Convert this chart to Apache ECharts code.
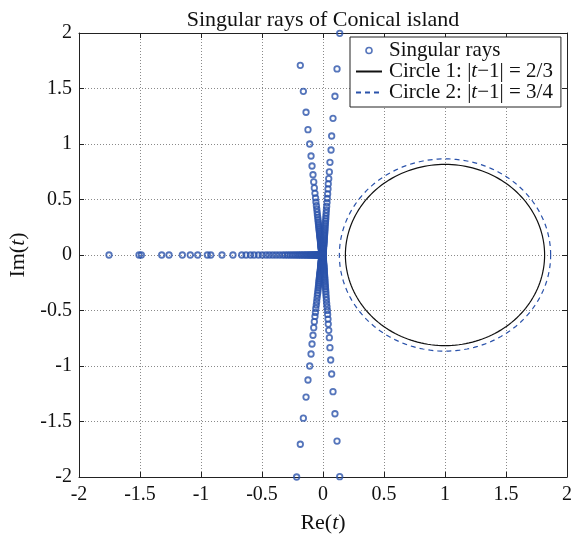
<!DOCTYPE html>
<html>
<head>
<meta charset="utf-8">
<script src="https://cdn.jsdelivr.net/npm/echarts@6/dist/echarts.min.js"></script>
<style>
  html, body { margin: 0; padding: 0; background: #fff; }
  #chart { width: 576px; height: 539px; }
</style>
</head>
<body>
<div id="chart"></div>
<script>
// Singular rays (points as [Re, Im])
const rayUpperLeft = [
  [-0.186,1.709],[-0.161,1.475],[-0.139,1.286],[-0.123,1.129],[-0.109,1.000],[-0.098,0.892],
  [-0.090,0.802],[-0.082,0.723],[-0.076,0.658],[-0.071,0.604],[-0.066,0.556],[-0.061,0.514],
  [-0.058,0.477],[-0.054,0.444],[-0.051,0.414],[-0.048,0.387],[-0.046,0.362],[-0.043,0.339],
  [-0.041,0.318],[-0.039,0.298],[-0.037,0.280],[-0.035,0.263],[-0.034,0.247],[-0.032,0.232],
  [-0.031,0.218],[-0.029,0.205],[-0.028,0.192],[-0.027,0.180],[-0.026,0.169],[-0.024,0.158],
  [-0.023,0.148],[-0.022,0.138],[-0.021,0.129],[-0.020,0.120],[-0.020,0.112],[-0.019,0.104],
  [-0.018,0.096],[-0.017,0.089],[-0.017,0.082],[-0.016,0.075],[-0.015,0.069],[-0.015,0.063],
  [-0.014,0.057],[-0.013,0.052],[-0.013,0.047],[-0.012,0.042],[-0.012,0.037],[-0.011,0.033],
  [-0.011,0.029],[-0.011,0.025],[-0.010,0.021],[-0.010,0.018],[-0.010,0.015],[-0.009,0.012],
  [-0.009,0.009],[-0.009,0.006],[-0.008,0.003]
];
const rayLowerLeft = [
  [-0.216,-2.000],[-0.186,-1.705],[-0.161,-1.470],[-0.139,-1.280],[-0.123,-1.126],[-0.109,-1.000],
  [-0.098,-0.892],[-0.090,-0.802],[-0.082,-0.723],[-0.076,-0.655],[-0.071,-0.601],[-0.066,-0.553],
  [-0.062,-0.517],[-0.059,-0.481],[-0.055,-0.451],[-0.052,-0.421],[-0.049,-0.390],[-0.046,-0.362],
  [-0.043,-0.339],[-0.041,-0.318],[-0.039,-0.298],[-0.037,-0.280],[-0.035,-0.263],[-0.034,-0.247],
  [-0.032,-0.232],[-0.031,-0.218],[-0.029,-0.205],[-0.028,-0.192],[-0.027,-0.180],[-0.026,-0.169],
  [-0.024,-0.158],[-0.023,-0.148],[-0.022,-0.138],[-0.021,-0.129],[-0.020,-0.120],[-0.020,-0.112],
  [-0.019,-0.104],[-0.018,-0.096],[-0.017,-0.089],[-0.017,-0.082],[-0.016,-0.075],[-0.015,-0.069],
  [-0.015,-0.063],[-0.014,-0.057],[-0.013,-0.052],[-0.013,-0.047],[-0.012,-0.042],[-0.012,-0.037],
  [-0.011,-0.033],[-0.011,-0.029],[-0.011,-0.025],[-0.010,-0.021],[-0.010,-0.018],[-0.010,-0.015],
  [-0.009,-0.012],[-0.009,-0.009],[-0.009,-0.006],[-0.008,-0.003]
];
const rayUpperRight = [
  [0.137,1.997],[0.115,1.676],[0.098,1.430],[0.082,1.231],[0.071,1.072],[0.066,0.946],
  [0.057,0.835],[0.052,0.748],[0.047,0.688],[0.043,0.640],[0.041,0.595],[0.038,0.550],
  [0.035,0.509],[0.033,0.472],[0.030,0.438],[0.028,0.407],[0.026,0.379],[0.024,0.353],
  [0.023,0.329],[0.021,0.307],[0.020,0.286],[0.018,0.267],[0.017,0.249],[0.016,0.232],
  [0.015,0.216],[0.014,0.201],[0.013,0.187],[0.012,0.174],[0.011,0.162],[0.010,0.150],
  [0.010,0.139],[0.009,0.129],[0.008,0.119],[0.008,0.110],[0.007,0.101],[0.006,0.093],
  [0.006,0.085],[0.005,0.078],[0.005,0.071],[0.004,0.064],[0.004,0.058],[0.004,0.052],
  [0.003,0.046],[0.003,0.041],[0.002,0.036],[0.002,0.031],[0.002,0.027],[0.002,0.023],
  [0.001,0.019],[0.001,0.015],[0.001,0.012],[0.001,0.009],[0.000,0.006],[0.000,0.003]
];
const rayLowerRight = [
  [0.137,-1.997],[0.115,-1.676],[0.098,-1.430],[0.082,-1.231],[0.071,-1.072],[0.063,-0.946],
  [0.057,-0.835],[0.052,-0.745],[0.047,-0.679],[0.043,-0.622],[0.041,-0.577],[0.038,-0.535],
  [0.036,-0.499],[0.033,-0.467],[0.030,-0.438],[0.028,-0.407],[0.026,-0.379],[0.024,-0.353],
  [0.023,-0.329],[0.021,-0.307],[0.020,-0.286],[0.018,-0.267],[0.017,-0.249],[0.016,-0.232],
  [0.015,-0.216],[0.014,-0.201],[0.013,-0.187],[0.012,-0.174],[0.011,-0.162],[0.010,-0.150],
  [0.010,-0.139],[0.009,-0.129],[0.008,-0.119],[0.008,-0.110],[0.007,-0.101],[0.006,-0.093],
  [0.006,-0.085],[0.005,-0.078],[0.005,-0.071],[0.004,-0.064],[0.004,-0.058],[0.004,-0.052],
  [0.003,-0.046],[0.003,-0.041],[0.002,-0.036],[0.002,-0.031],[0.002,-0.027],[0.002,-0.023],
  [0.001,-0.019],[0.001,-0.015],[0.001,-0.012],[0.001,-0.009],[0.000,-0.006],[0.000,-0.003]
];
// ray along the negative real axis (Im = 0)
const rayNegRealRe = [
  -1.754,-1.508,-1.489,-1.322,-1.262,-1.153,-1.088,-1.027,-0.948,-0.920,-0.828,-0.738,
  -0.666,-0.631,-0.595,-0.565,-0.530,-0.498,-0.467,-0.440,-0.412,-0.385,-0.358,-0.332,
  -0.310,-0.290,-0.271,-0.253,-0.236,-0.220,-0.205,-0.191,-0.178,-0.165,-0.153,-0.142,
  -0.131,-0.121,-0.112,-0.103,-0.095,-0.087,-0.080,-0.073,-0.067,-0.061,-0.055,-0.050,
  -0.045,-0.041,-0.037,-0.033,-0.029,-0.026,-0.023,-0.020,-0.017,-0.015,-0.013,-0.011,-0.009
];

// Circles |t-1| : centre and squared radius
const circleCenter = [1, 0];
const circleRadiusSq = [2 / 3, 3 / 4];
const seriesNames = ['Singular rays', 'Circle 1: |t−1| = 2/3', 'Circle 2: |t−1| = 3/4'];
const xTicks = [-2, 2, 0.5];
const yTicks = [-2, 2, 0.5];

const BLUE = '#2a52aa';
const INK = '#111';
const FONT = 'Liberation Serif';

const rayPoints = [].concat(
  rayNegRealRe.map(re => [re, 0]),
  rayUpperLeft, rayLowerLeft, rayUpperRight, rayLowerRight
);

function circlePath(rSq) {
  const r = Math.sqrt(rSq);
  const pts = [];
  for (let k = 0; k <= 360; k++) {
    const a = k * Math.PI / 180;
    pts.push([circleCenter[0] + r * Math.cos(a), circleCenter[1] + r * Math.sin(a)]);
  }
  return pts;
}

function richSet(size) {
  return {
    n: { fontFamily: FONT, fontSize: size, color: INK },
    i: { fontFamily: FONT, fontSize: size, fontStyle: 'italic', color: INK }
  };
}

function italicT(s) {
  const k = s.indexOf('t−1');
  if (k < 0) return '{n|' + s + '}';
  return '{n|' + s.slice(0, k) + '}{i|t}{n|' + s.slice(k + 1) + '}';
}

const gridLine = { show: true, lineStyle: { color: '#8a8a8a', width: 1, type: [1, 2] } };
const axLine = { show: true, onZero: false, lineStyle: { color: '#222', width: 1 } };
const tick = { show: true, inside: true, length: 5, lineStyle: { color: '#222', width: 1 } };
const tickLabel = { fontFamily: FONT, fontSize: 20, color: INK };
const hidden = { itemStyle: { color: 'rgba(0,0,0,0)', borderColor: 'rgba(0,0,0,0)', borderWidth: 0, opacity: 0 } };

const chart = echarts.init(document.getElementById('chart'), null, { renderer: 'canvas' });
chart.setOption({
  animation: false,
  backgroundColor: '#fff',
  title: {
    text: 'Singular rays of Conical island',
    left: 318, top: 4, textAlign: 'center',
    textStyle: { fontFamily: FONT, fontSize: 22, fontWeight: 'normal', color: INK }
  },
  grid: { left: 79, right: 9, top: 33, bottom: 62, containLabel: false, outerBoundsMode: 'none' },
  legend: {
    orient: 'vertical',
    left: 350, top: 37,
    backgroundColor: '#fff',
    borderColor: '#222', borderWidth: 1,
    padding: [3, 8, 4, 5],
    itemWidth: 26, itemHeight: 6, itemGap: 0,
    data: [
      { name: seriesNames[0], icon: 'circle',
        itemStyle: { color: 'rgba(0,0,0,0)', borderColor: BLUE, borderWidth: 1.6 } },
      Object.assign({ name: seriesNames[1] }, hidden),
      Object.assign({ name: seriesNames[2] }, hidden)
    ],
    formatter: name => italicT(name),
    textStyle: { fontFamily: FONT, fontSize: 21, lineHeight: 21, color: INK, rich: richSet(21), padding: [0, 0, 0, 2] }
  },
  xAxis: [
    {
      type: 'value', min: xTicks[0], max: xTicks[1], interval: xTicks[2],
      position: 'bottom',
      name: '{n|Re(}{i|t}{n|)}', nameLocation: 'middle', nameGap: 35,
      nameTextStyle: { rich: richSet(22) },
      axisLine: axLine, axisTick: tick, splitLine: gridLine,
      axisLabel: Object.assign({ margin: 8 }, tickLabel)
    },
    {
      type: 'value', min: xTicks[0], max: xTicks[1], interval: xTicks[2],
      position: 'top',
      axisLine: axLine, axisTick: tick, splitLine: { show: false },
      axisLabel: { show: false }
    }
  ],
  yAxis: [
    {
      type: 'value', min: yTicks[0], max: yTicks[1], interval: yTicks[2],
      position: 'left',
      name: '{n|Im(}{i|t}{n|)}', nameLocation: 'middle', nameGap: 50, nameRotate: 90,
      nameTextStyle: { rich: richSet(22) },
      axisLine: axLine, axisTick: tick, splitLine: gridLine,
      axisLabel: Object.assign({ margin: 7 }, tickLabel)
    },
    {
      type: 'value', min: yTicks[0], max: yTicks[1], interval: yTicks[2],
      position: 'right',
      axisLine: axLine, axisTick: tick, splitLine: { show: false },
      axisLabel: { show: false }
    }
  ],
  series: [
    {
      name: seriesNames[0],
      type: 'scatter',
      data: rayPoints,
      symbol: 'circle',
      symbolSize: 5.5,
      clip: false,
      itemStyle: { color: 'rgba(255,255,255,0)', borderColor: BLUE, borderWidth: 1.8 },
      z: 3
    },
    {
      name: seriesNames[1],
      type: 'line',
      data: circlePath(circleRadiusSq[0]),
      showSymbol: false, symbol: 'none',
      lineStyle: { color: INK, width: 1.2 },
      itemStyle: { color: INK },
      z: 2
    },
    {
      name: seriesNames[2],
      type: 'line',
      data: circlePath(circleRadiusSq[1]),
      showSymbol: false, symbol: 'none',
      lineStyle: { color: BLUE, width: 1.2, type: [5, 4] },
      itemStyle: { color: BLUE },
      z: 2
    }
  ]
});
</script>
</body>
</html>
